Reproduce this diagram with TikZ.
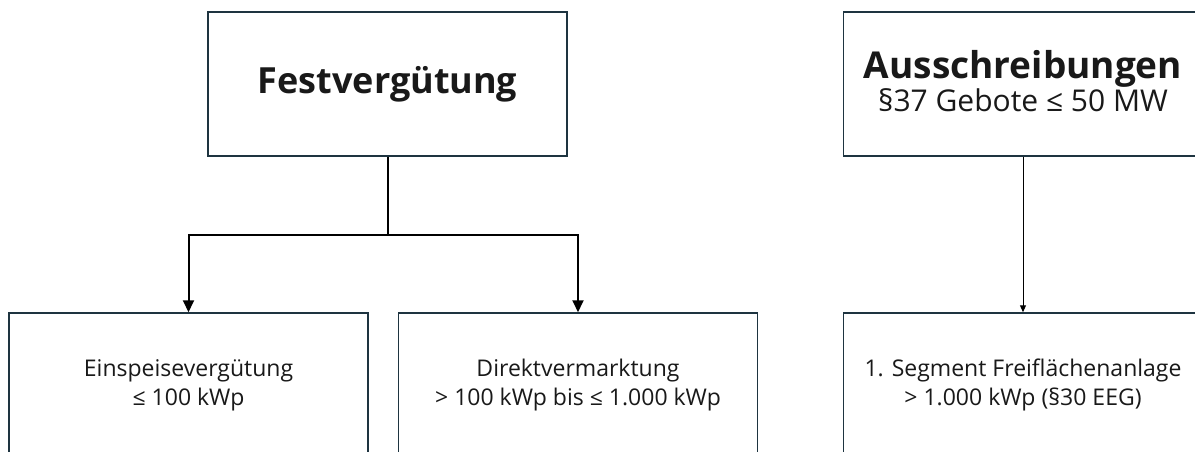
\documentclass[tikz,border=0pt]{standalone}
\usepackage{fontspec}
\setmainfont{Open Sans}
\usepackage{xcolor}
\usetikzlibrary{arrows.meta}
\definecolor{box edge}{HTML}{1E3440}
\colorlet{box text}{black!90}
\newcommand\titlesize{\fontsize{36}{40}\selectfont\bfseries}
\newcommand\headsize{\fontsize{37}{36}\selectfont\bfseries}
\newcommand\subsize{\fontsize{30}{37}\selectfont}
\newcommand\smallsize{\fontsize{23}{29}\selectfont}
\tikzset{box/.style={draw=box edge, line width=1.5pt, fill=white, text=box text,
        minimum width=359pt, minimum height=144pt, align=center, inner sep=0pt},
    label text/.style={text=box text, align=center, inner sep=0pt},
    link/.style={line width=2pt, -{Triangle[width=11pt,length=12pt]}},
    thin link/.style={line width=1pt, -{Triangle[width=6pt,length=7pt]}}}

\begin{document}
\begin{tikzpicture}[x=1pt,y=-1pt]
    \fill[white] (0,0) rectangle (1195,452);
    \useasboundingbox (0,0) rectangle (1195,452);
    \clip (0,0) rectangle (1195,452);
    % upper row
    \node[box, font=\titlesize] (fest) at (387.5,84) {Festvergütung};
    \node[box] (aus) at (1023,84) {};
    \node[label text] (aus text) at ([yshift=3pt]aus.center)
        {\headsize Ausschreibungen\\ \subsize §37 Gebote ≤ 50 MW};
    % lower row
    \node[box, font=\smallsize] (einsp)  at (188.5,385) {Einspeisevergütung\\ ≤ 100 kWp};
    \node[box, font=\smallsize] (direkt) at (578,385)   {Direktvermarktung\\ > 100 kWp bis ≤ 1.000 kWp};
    \node[box, font=\smallsize] (frei)   at (1023,385)  {1. Segment Freiflächenanlage\\ > 1.000 kWp (§30 EEG)};
    % connectors
    \coordinate (split) at (387.5,235);
    \draw[line width=2pt] (fest.south) -- (split);
    \draw[link] (split) -| (einsp.north);
    \draw[link] (split) -| (direkt.north);
    \draw[thin link] (aus.south) -- (frei.north);
\end{tikzpicture}
\end{document}
